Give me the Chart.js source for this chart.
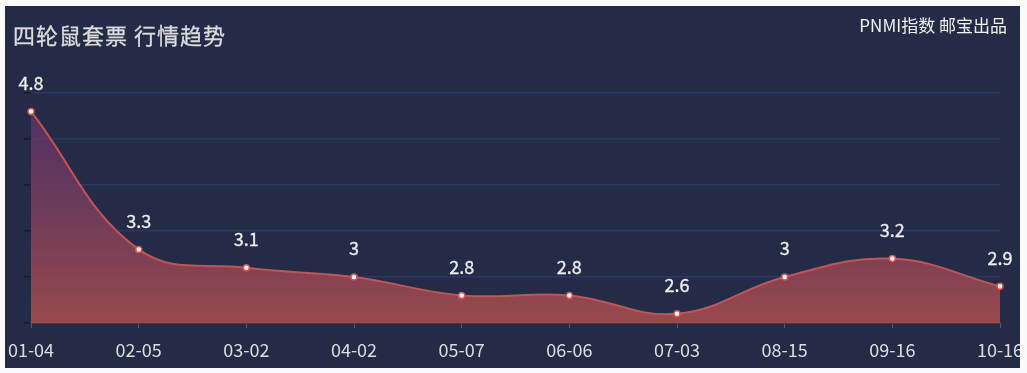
<!DOCTYPE html>
<html><head><meta charset="utf-8">
<script src="https://cdn.jsdelivr.net/npm/chart.js@4"></script>
<style>
html,body{margin:0;padding:0;background:#fafafa;width:1027px;height:373px;overflow:hidden;}
#wrap{position:absolute;left:5px;top:6px;width:1015px;height:362px;background:#232b46;overflow:hidden;}
canvas{position:absolute;left:0;top:0;}
.t{position:absolute;font-family:"Noto Sans CJK SC","Microsoft YaHei",sans-serif;white-space:nowrap;line-height:1;}
#title{left:8px;top:17px;font-size:22px;letter-spacing:1px;color:#dcdcdc;-webkit-text-stroke:0.3px currentColor;}
#sub{right:13px;top:10px;font-size:17px;color:#f2f2f2;}
</style></head><body>
<div id="wrap"><canvas id="c" width="1015" height="362"></canvas>
<div class="t" id="title">四轮鼠套票 行情趋势</div>
<div class="t" id="sub">PNMI指数 邮宝出品</div></div>
<script>
const categories = ["01-04","02-05","03-02","04-02","05-07","06-06","07-03","08-15","09-16","10-16"];
const prices = [4.8,3.3,3.1,3.0,2.8,2.8,2.6,3.0,3.2,2.9];
const yMin = 2.5, yMax = 5, yStep = 0.5;

const FONT = '"Noto Sans CJK SC","Microsoft YaHei",sans-serif';
const labelPlugin = {
  id:'vals',
  afterDatasetsDraw(chart){
    const ctx = chart.ctx, meta = chart.getDatasetMeta(0);
    ctx.save();
    ctx.font = '18px ' + FONT;
    ctx.fillStyle = '#eeeeee';
    ctx.strokeStyle = '#eeeeee';
    ctx.lineWidth = 0.3;
    ctx.textAlign = 'center';
    ctx.textBaseline = 'middle';
    meta.data.forEach((p,i)=>{
      ctx.fillText(String(prices[i]), p.x, p.y - 28.5);
      ctx.strokeText(String(prices[i]), p.x, p.y - 28.5);
    });
    ctx.restore();
  }
};
const ctx = document.getElementById('c').getContext('2d');
new Chart(ctx,{
  type:'line',
  data:{labels:categories,datasets:[{
    data:prices,
    borderColor:'#c9524f',
    borderWidth:2,
    tension:0.4,
    fill:'start',
    backgroundColor(c){
      const a = c.chart.chartArea;
      if(!a) return 'rgba(150,70,70,0.8)';
      const g = c.chart.ctx.createLinearGradient(0,a.top,0,a.bottom);
      g.addColorStop(0,'rgba(110,55,120,0.55)');
      g.addColorStop(1,'rgba(160,75,75,0.95)');
      return g;
    },
    pointRadius:3,
    pointBackgroundColor:'#ffffff',
    pointBorderColor:'#e0504c',
    pointBorderWidth:1.5,
    clip:false
  }]},
  options:{
    responsive:false,animation:false,
    layout:{autoPadding:false,padding:{left:19,right:20,top:87,bottom:0}},
    plugins:{legend:{display:false},tooltip:{enabled:false}},
    scales:{
      x:{
        offset:false,
        grid:{drawOnChartArea:false,drawTicks:true,tickLength:5,tickColor:'#555a66'},
        border:{display:true,color:'#4a4d58',width:1.5},
        ticks:{color:'#dddddd',font:{size:18,family:FONT},padding:11,maxRotation:0,autoSkip:false},
        afterFit(s){s.height=45;s.paddingLeft=0;s.paddingRight=0;}
      },
      y:{
        min:yMin,max:yMax,
        ticks:{display:false,stepSize:yStep},
        grid:{color:'#2f3567',lineWidth:1.5,drawTicks:true,tickLength:7,tickColor:'#171c2c'},
        border:{display:false},
        afterFit(s){s.width=7;s.paddingTop=0;s.paddingBottom=0;}
      }
    }
  },
  plugins:[labelPlugin]
});
</script></body></html>
